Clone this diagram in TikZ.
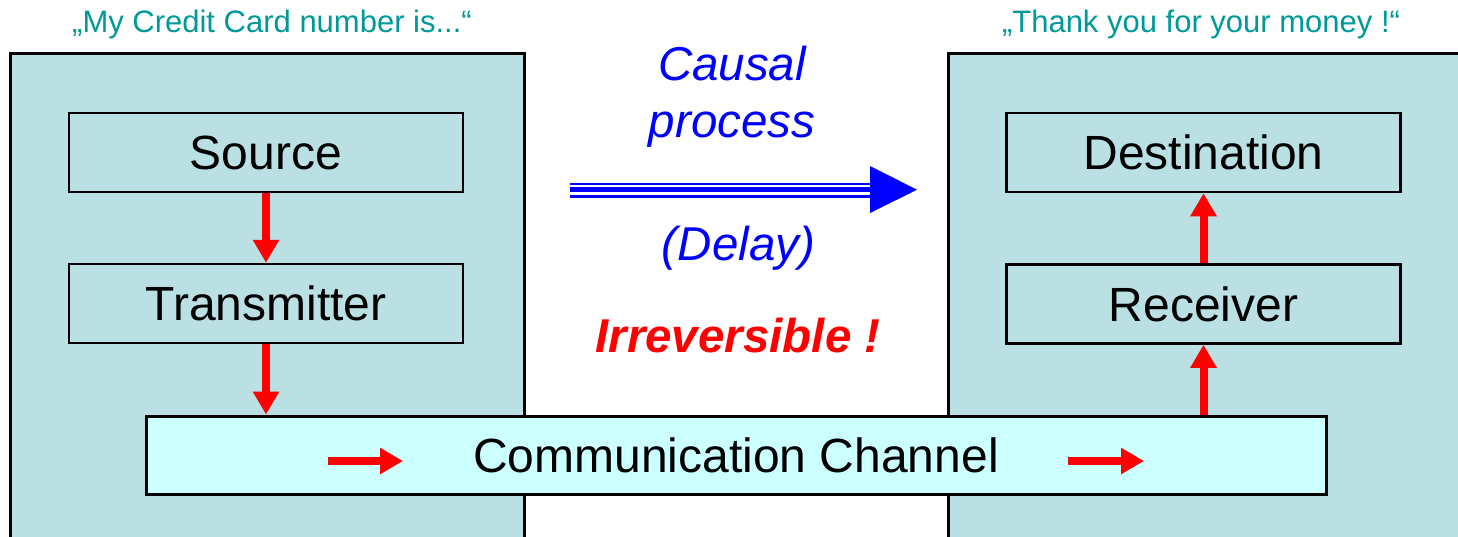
\documentclass[tikz,border=0pt]{standalone}
\usepackage{fontspec}
\setmainfont{Liberation Sans}
\usetikzlibrary{arrows.meta}
\definecolor{outerfill}{HTML}{BBE0E3}
\definecolor{chanfill}{HTML}{CCFFFF}
\definecolor{teal}{HTML}{009999}
\begin{document}
\begin{tikzpicture}[x=1pt,y=-1pt,
  outer/.style={draw=black,line width=3pt,fill=outerfill},
  inner/.style={draw=black,line width=2.5pt,fill=outerfill,minimum width=394pt,minimum height=79pt,inner sep=0pt,font=\fontsize{48}{52}\selectfont},
  chan/.style={draw=black,line width=3pt,fill=chanfill,minimum width=1180pt,minimum height=78pt,inner sep=0pt,font=\fontsize{48}{52}\selectfont},
  redarrow/.style={draw=red,line width=8pt,-{Triangle[width=25pt,length=23pt]}},
  quote/.style={text=teal,font=\fontsize{31}{34}\selectfont,inner sep=0pt},
  bluetext/.style={text=blue,font=\fontsize{47.5}{57}\selectfont\itshape,inner sep=0pt,align=center}
]
\useasboundingbox (0,0) rectangle (1458,536);
\clip (0,0) rectangle (1458,536);
% outer boxes
\draw[outer] (10,53) rectangle (524,560);
\draw[outer] (948,53) rectangle (1480,560);
% inner nodes
\node[inner] (src) at (266,152.5) {Source};
\node[inner] (tx) at (266,303.5) {Transmitter};
\node[inner] (dst) at (1203.5,152.5) {Destination};
\node[inner] (rx) at (1203.5,304) {Receiver};
\node[chan] (ch) at (736,455) {Communication Channel};
% red arrows
\draw[redarrow] (src.south) -- (tx.north);
\draw[redarrow] (tx.south) -- (tx.south |- ch.north);
\draw[redarrow] (rx.south |- ch.north) -- (rx.south);
\draw[redarrow] (rx.north) -- (dst.south);
\coordinate (c1a) at (328,461);
\coordinate (c1b) at (403,461);
\coordinate (c2a) at (1068,461);
\coordinate (c2b) at (1144,461);
\draw[redarrow] (c1a) -- (c1b);
\draw[redarrow] (c2a) -- (c2b);
% quotes
\node[quote] (q1) at (272,24) {„My Credit Card number is...“};
\node[quote] (q2) at (1201,24) {„Thank you for your money !“};
% central texts
\node[bluetext] (causal) at (732,97) {Causal\\process};
\node[bluetext] (delay) at (738.5,248) {(Delay)};
\node[text=red,font=\fontsize{47.5}{52}\selectfont\bfseries\itshape,inner sep=0pt] (irr) at (738,336) {Irreversible !};
% blue triple arrow
\coordinate (ba) at (570,189.7);
\coordinate (bb) at (870,189.7);
\coordinate (bt) at (917,189.7);
\draw[blue,line width=2.3pt] ([yshift=-6.9pt]ba) -- ([yshift=-6.9pt]bb);
\draw[blue,line width=4.7pt] (ba) -- (bb);
\draw[blue,line width=2.3pt] ([yshift=5.8pt]ba) -- ([yshift=5.8pt]bb);
\fill[blue] (870,166) -- (bt) -- (870,213) -- cycle;
\end{tikzpicture}
\end{document}
